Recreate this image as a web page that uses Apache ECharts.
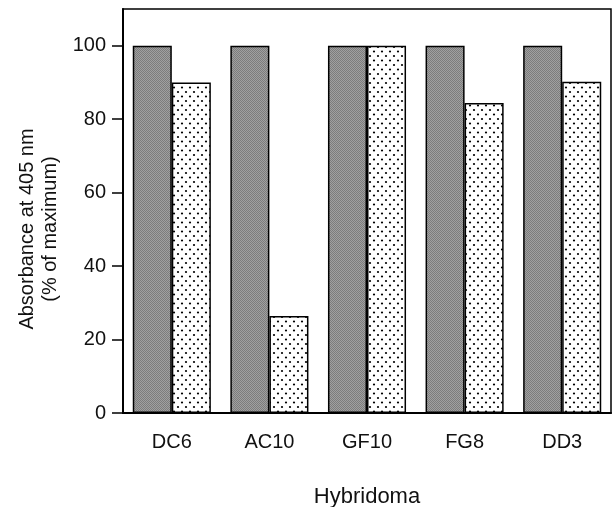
<!DOCTYPE html>
<html>
<head>
<meta charset="utf-8">
<script src="https://cdn.jsdelivr.net/npm/echarts@6/dist/echarts.min.js"></script>
<style>
  html, body { margin: 0; padding: 0; background: #fff; }
  #chart { width: 615px; height: 507px; }
</style>
</head>
<body>
<div id="chart"></div>
<script>
// data
const hybridomas = ['DC6', 'AC10', 'GF10', 'FG8', 'DD3']
const solidValues = [100, 100, 100, 100, 100]
const dottedValues = [90, 26.4, 100, 84.4, 90.2]
const yTicks = [0, 20, 40, 60, 80, 100]

// gray halftone fill
const makeGray = () => {
  const c = document.createElement('canvas')
  c.width = 2; c.height = 2
  const g = c.getContext('2d')
  g.fillStyle = '#a0a0a0'; g.fillRect(0, 0, 2, 2)
  g.fillStyle = '#7c7c7c'; g.fillRect(0, 0, 1, 1); g.fillRect(1, 1, 1, 1)
  return c
}

// white fill with staggered black dots
const makeDots = () => {
  const c = document.createElement('canvas')
  c.width = 8; c.height = 9
  const g = c.getContext('2d')
  g.fillStyle = '#fff'; g.fillRect(0, 0, 8, 9)
  g.fillStyle = '#000'
  g.beginPath(); g.arc(2, 2, 1.1, 0, Math.PI * 2); g.fill()
  g.beginPath(); g.arc(6, 6.5, 1.1, 0, Math.PI * 2); g.fill()
  return c
}

const chart = echarts.init(document.getElementById('chart'))
chart.setOption({
  animation: false,
  grid: {
    left: 123, right: 4, top: 9, bottom: 94,
    containLabel: false,
    outerBoundsMode: 'none',
    show: true, borderColor: '#000', borderWidth: 1.5
  },
  xAxis: {
    type: 'category',
    data: hybridomas,
    name: 'Hybridoma',
    nameLocation: 'middle',
    nameGap: 73,
    nameTextStyle: { fontFamily: 'Liberation Sans', fontSize: 22, color: '#111' },
    axisLine: { lineStyle: { color: '#000', width: 2 } },
    axisTick: { alignWithLabel: true, length: 11, lineStyle: { color: '#000', width: 1.5 } },
    axisLabel: { fontFamily: 'Liberation Sans', fontSize: 20, color: '#111', margin: 19 }
  },
  yAxis: {
    type: 'value',
    min: 0,
    max: 110,
    name: 'Absorbance at 405 nm\n(% of maximum)',
    nameLocation: 'middle',
    nameGap: 60,
    nameTextStyle: {
      fontFamily: 'Liberation Sans', fontSize: 20, color: '#111',
      lineHeight: 23, padding: [0, 36, 0, 0]
    },
    splitLine: { show: false },
    axisLine: { show: true, lineStyle: { color: '#000', width: 2 } },
    axisTick: { show: true, length: 11, customValues: yTicks, lineStyle: { color: '#000', width: 1.5 } },
    axisLabel: { fontFamily: 'Liberation Sans', fontSize: 20, color: '#111', margin: 17, customValues: yTicks }
  },
  series: [
    {
      name: 'solid',
      type: 'bar',
      data: solidValues,
      barGap: '0%',
      barCategoryGap: '20%',
      itemStyle: {
        color: { image: makeGray(), repeat: 'repeat' },
        borderColor: '#000',
        borderWidth: 1.5
      }
    },
    {
      name: 'dotted',
      type: 'bar',
      data: dottedValues,
      itemStyle: {
        color: { image: makeDots(), repeat: 'repeat' },
        borderColor: '#000',
        borderWidth: 1.5
      }
    }
  ]
})
</script>
</body>
</html>
